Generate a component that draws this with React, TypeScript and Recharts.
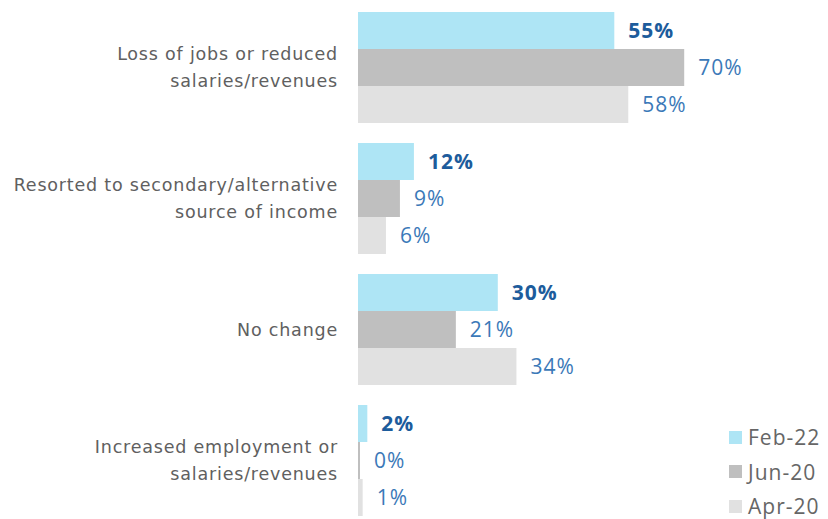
import React from 'react';
import { Bar, BarChart, LabelList, XAxis, YAxis } from 'recharts';

const categories = [
  'Loss of jobs or reduced\nsalaries/revenues',
  'Resorted to secondary/alternative\nsource of income',
  'No change',
  'Increased employment or\nsalaries/revenues',
];
const feb22 = [55, 12, 30, 2];
const jun20 = [70, 9, 21, 0];
const apr20 = [58, 6, 34, 1];

const seriesNames = ['Feb-22', 'Jun-20', 'Apr-20'];
const seriesColors = ['#aee5f5', '#bfbfbf', '#e1e1e1'];

const TICK_FONT = '"DejaVu Sans", sans-serif';
const FONT = '"Open Sans", sans-serif';
const LABEL_BLUE = '#3b79b8';
const LABEL_BOLD = '#1d5c9c';

const data = categories.map((name, i) => ({
  name,
  feb22: feb22[i],
  jun20: jun20[i],
  apr20: apr20[i],
}));

const pct = (v: number | string) => `${v}%`;

function CategoryTick({ x, y, payload }: any) {
  const lines = String(payload.value).split('\n');
  const lineHeight = 27;
  const first = -((lines.length - 1) * lineHeight) / 2 + 6;
  return (
    <text
      x={x}
      y={y}
      textAnchor="end"
      fill="#606060"
      fontSize={17.5}
      letterSpacing={0.8}
      fontFamily={TICK_FONT}
    >
      {lines.map((line, i) => (
        <tspan key={i} x={x} dy={i === 0 ? first : lineHeight}>
          {line}
        </tspan>
      ))}
    </text>
  );
}

const labelProps = {
  position: 'right' as const,
  offset: 14,
  formatter: pct,
  fontSize: 21,
  letterSpacing: 1,
  fontFamily: FONT,
};

export default function App() {
  return (
    <div
      style={{
        position: 'fixed',
        top: 0,
        left: 0,
        width: 828,
        height: 519,
        overflow: 'hidden',
        background: '#fff',
      }}
    >
      <BarChart
        width={828}
        height={526}
        data={data}
        layout="vertical"
        margin={{ top: 2, right: 4, bottom: 0, left: 0 }}
        barSize={37}
        barGap={0}
      >
        <XAxis type="number" domain={[0, 100]} hide />
        <YAxis
          type="category"
          dataKey="name"
          width={358}
          axisLine={false}
          tickLine={false}
          tickSize={0}
          tickMargin={20}
          tick={<CategoryTick />}
          interval={0}
        />
        <Bar dataKey="feb22" name={seriesNames[0]} fill={seriesColors[0]} isAnimationActive={false}>
          <LabelList dataKey="feb22" {...labelProps} fill={LABEL_BOLD} fontWeight="bold" />
        </Bar>
        <Bar
          dataKey="jun20"
          name={seriesNames[1]}
          fill={seriesColors[1]}
          minPointSize={2}
          isAnimationActive={false}
        >
          <LabelList dataKey="jun20" {...labelProps} fill={LABEL_BLUE} />
        </Bar>
        <Bar dataKey="apr20" name={seriesNames[2]} fill={seriesColors[2]} isAnimationActive={false}>
          <LabelList dataKey="apr20" {...labelProps} fill={LABEL_BLUE} />
        </Bar>
      </BarChart>
      <div style={{ position: 'absolute', left: 729, top: 420, fontFamily: FONT }}>
        {seriesNames.map((name, i) => (
          <div
            key={name}
            style={{
              display: 'flex',
              alignItems: 'center',
              height: 34.5,
              color: '#666',
              fontSize: 21,
              letterSpacing: 1,
            }}
          >
            <span
              style={{ width: 13, height: 13, background: seriesColors[i], marginRight: 6, display: 'inline-block' }}
            />
            {name}
          </div>
        ))}
      </div>
    </div>
  );
}
